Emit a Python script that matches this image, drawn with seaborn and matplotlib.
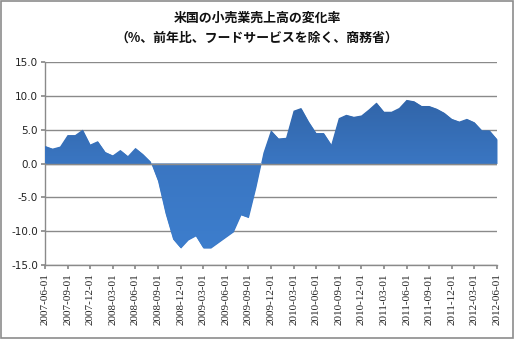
import numpy as np
import pandas as pd
import matplotlib
matplotlib.use("Agg")
import matplotlib.pyplot as plt
import seaborn as sns
from matplotlib.patches import Rectangle
from matplotlib.colors import LinearSegmentedColormap

sns.set_theme(style="white")
plt.rcParams['font.family'] = ['Noto Sans CJK JP', 'DejaVu Sans']

title_lines = ["米国の小売業売上高の変化率", "（%、前年比、フードサービスを除く、商務省）"]

# monthly values, 2007-06 .. 2012-06 (61 months)
values = [2.6, 2.2, 2.5, 4.2, 4.2, 5.0, 2.8, 3.3, 1.7, 1.2, 2.0, 1.1, 2.3, 1.4, 0.3,
          -2.6, -7.4, -11.2, -12.5, -11.3, -10.7, -12.5, -12.5, -11.7, -10.9, -10.1,
          -7.6, -8.0, -3.5, 1.6, 4.9, 3.7, 3.8, 7.8, 8.2, 6.2, 4.5, 4.5, 2.8, 6.7,
          7.2, 6.9, 7.1, 8.0, 9.0, 7.65, 7.65, 8.2, 9.4, 9.2, 8.5, 8.5, 8.1, 7.5,
          6.6, 6.2, 6.6, 6.1, 4.9, 4.9, 3.6]
tick_labels = ["2007-06-01", "2007-09-01", "2007-12-01", "2008-03-01", "2008-06-01",
               "2008-09-01", "2008-12-01", "2009-03-01", "2009-06-01", "2009-09-01",
               "2009-12-01", "2010-03-01", "2010-06-01", "2010-09-01", "2010-12-01",
               "2011-03-01", "2011-06-01", "2011-09-01", "2011-12-01", "2012-03-01",
               "2012-06-01"]
y_ticks = [-15, -10, -5, 0, 5, 10, 15]

df = pd.DataFrame({"i": np.arange(len(values)), "v": values})

fig = plt.figure(figsize=(5.14, 3.39), dpi=100)
fig.patch.set_facecolor("white")
fig.add_artist(Rectangle((0.001, 0.002), 0.997, 0.995, transform=fig.transFigure,
                         fill=False, edgecolor="#8c8c8c", linewidth=1.2))
ax = fig.add_axes([45/514, (339-265)/339, (497-45)/514, (265-62)/339])

for y in y_ticks:
    ax.axhline(y, color="#8a8a8a", linewidth=1.0, zorder=1)

sns.lineplot(data=df, x="i", y="v", ax=ax, linewidth=0, color="#3a78c6", zorder=2)
poly = ax.fill_between(df["i"], df["v"], 0, color="#3a78c6", linewidth=0, zorder=2)

# vertical gradient clipped to the area
grad = np.linspace(0, 1, 256).reshape(-1, 1)
cmap = LinearSegmentedColormap.from_list("g", ["#3d7fcf", "#3a76c2", "#2c5b9a"])
im = ax.imshow(grad, aspect="auto", cmap=cmap, extent=[0, 60, 15, -15],
               origin="upper", zorder=3)
path = poly.get_paths()[0]
im.set_clip_path(path, transform=ax.transData)
ax.axhline(0, color="#8a8a8a", linewidth=1.0, zorder=4)

ax.set_xlim(0, 60)
ax.set_ylim(-15, 15)
ax.set_yticks(y_ticks)
ax.set_yticklabels([f"{t:.1f}" for t in y_ticks], fontsize=7.5,
                   family=["DejaVu Sans"], color="#222222")
ax.set_xticks(np.arange(0, 61, 3))
ax.set_xticklabels(tick_labels, rotation=90, fontsize=8,
                   family=["Liberation Serif"], color="#222222")
ax.tick_params(axis="y", length=3, color="#8a8a8a", pad=2, left=True)
ax.tick_params(axis="x", length=3, color="#8a8a8a", pad=3, bottom=True)
ax.set_xlabel("")
ax.set_ylabel("")
for side in ["top", "right"]:
    ax.spines[side].set_visible(False)
for side in ["left", "bottom"]:
    ax.spines[side].set_color("#8a8a8a")
    ax.spines[side].set_linewidth(1.0)

fig.text(0.5, 1 - 18/339, title_lines[0], ha="center", va="center",
         fontsize=9.3, fontweight="bold", color="#111111")
fig.text(0.5, 1 - 38/339, title_lines[1], ha="center", va="center",
         fontsize=9.3, fontweight="bold", color="#111111")

fig.savefig("out.png", dpi=100, facecolor="white")
